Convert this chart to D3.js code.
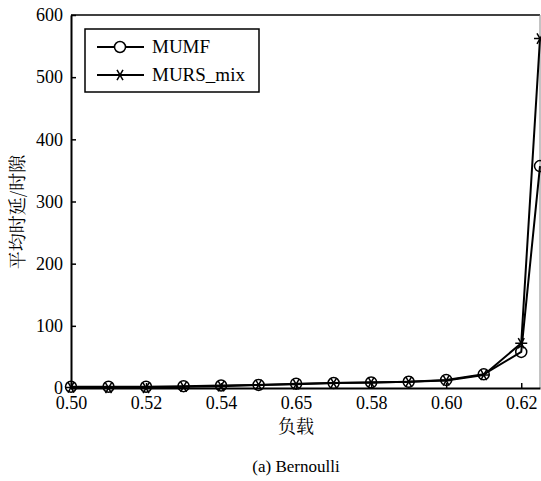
<!DOCTYPE html>
<html>
<head>
<meta charset="utf-8">
<script src="https://cdn.jsdelivr.net/npm/d3@7"></script>
<style>
body { margin: 0; background: #fff; }
text { font-family: "Liberation Serif", "Times New Roman", serif; }
.cjk { font-family: "Noto Serif CJK SC", "Noto Sans CJK SC", serif; }
</style>
</head>
<body>
<div id="chart-area"></div>
<script>
// load values
var loads = [0.50, 0.51, 0.52, 0.53, 0.54, 0.55, 0.56, 0.57, 0.58, 0.59, 0.60, 0.61, 0.62, 0.625];
var mumf = [2, 2, 2, 3, 4, 5, 7, 8, 9, 10, 13, 22, 58, 357];
var mursMix = [1, 0, 0, 2, 3, 5, 6, 8, 9, 10, 12, 21, 72, 562];

var xTicks = [0.50, 0.52, 0.54, 0.56, 0.58, 0.60, 0.62];
var xTickLabels = ["0.50", "0.52", "0.54", "0.65", "0.58", "0.60", "0.62"];
var yTicks = [0, 100, 200, 300, 400, 500, 600];

var seriesNames = ["MUMF", "MURS_mix"];

var width = 541, height = 481;
var plotLeft = 71, plotRight = 540, plotTop = 15, plotBottom = 388;

var svg = d3.select("#chart-area")
    .append("svg")
    .attr("width", width)
    .attr("height", height);

var x = d3.scaleLinear()
    .domain([0.50, 0.625])
    .range([plotLeft, plotRight]);

var y = d3.scaleLinear()
    .domain([0, 600])
    .range([plotBottom, plotTop]);

// frame top / right
svg.append("line")
    .attr("x1", plotLeft).attr("x2", plotRight)
    .attr("y1", plotTop).attr("y2", plotTop)
    .attr("stroke", "#000").attr("stroke-width", 1.5);
svg.append("line")
    .attr("x1", plotRight).attr("x2", plotRight)
    .attr("y1", plotTop).attr("y2", plotBottom)
    .attr("stroke", "#888").attr("stroke-width", 1);

// axes, ticks pointing inward
var xAxisCall = d3.axisBottom(x)
    .tickValues(xTicks)
    .tickSizeInner(-5)
    .tickSizeOuter(0)
    .tickPadding(8)
    .tickFormat(function(d, i){ return xTickLabels[i]; });

var xAxisGroup = svg.append("g")
    .attr("transform", "translate(0," + plotBottom + ")")
    .call(xAxisCall);

var yAxisCall = d3.axisLeft(y)
    .tickValues(yTicks)
    .tickSizeInner(-5)
    .tickSizeOuter(0)
    .tickPadding(8);

var yAxisGroup = svg.append("g")
    .attr("transform", "translate(" + plotLeft + ",0)")
    .call(yAxisCall);

svg.selectAll(".domain").attr("stroke", "#000").attr("stroke-width", 2);
svg.selectAll(".tick line").attr("stroke", "#000").attr("stroke-width", 1.5);
svg.selectAll(".tick text")
    .attr("fill", "#000")
    .attr("font-size", "18px");

// axis labels
svg.append("text")
    .attr("class", "cjk")
    .attr("x", 296)
    .attr("y", 433)
    .attr("font-size", "18px")
    .attr("text-anchor", "middle")
    .text("负载");

svg.append("text")
    .attr("class", "cjk")
    .attr("transform", "translate(24," + 212 + ") rotate(-90)")
    .attr("font-size", "18px")
    .attr("text-anchor", "middle")
    .text("平均时延/时隙");

svg.append("text")
    .attr("x", 296)
    .attr("y", 472)
    .attr("font-size", "17px")
    .attr("text-anchor", "middle")
    .text("(a) Bernoulli");

// series
var line = d3.line()
    .x(function(d){ return x(d.load); })
    .y(function(d){ return y(d.v); });

function pts(vals){
    return loads.map(function(l, i){ return {load: l, v: vals[i]}; });
}

var starPath = "M-6,0L6,0M-3,-5.2L3,5.2M-3,5.2L3,-5.2";

[mumf, mursMix].forEach(function(vals){
    svg.append("path")
        .datum(pts(vals))
        .attr("d", line)
        .attr("fill", "none")
        .attr("stroke", "#000")
        .attr("stroke-width", 2);
});

svg.selectAll(".mk-circle")
    .data(pts(mumf))
    .enter()
    .append("circle")
        .attr("class", "mk-circle")
        .attr("cx", function(d){ return x(d.load); })
        .attr("cy", function(d){ return y(d.v); })
        .attr("r", 5.5)
        .attr("fill", "none")
        .attr("stroke", "#000")
        .attr("stroke-width", 1.5);

svg.selectAll(".mk-star")
    .data(pts(mursMix))
    .enter()
    .append("path")
        .attr("class", "mk-star")
        .attr("transform", function(d){ return "translate(" + x(d.load) + "," + y(d.v) + ")"; })
        .attr("d", starPath)
        .attr("stroke", "#000")
        .attr("stroke-width", 1.5);

// legend
var legend = svg.append("g");
legend.append("rect")
    .attr("x", 85).attr("y", 29)
    .attr("width", 174).attr("height", 63)
    .attr("fill", "#fff")
    .attr("stroke", "#000")
    .attr("stroke-width", 1.5);

var legRows = legend.selectAll(".leg")
    .data(seriesNames)
    .enter()
    .append("g")
        .attr("class", "leg")
        .attr("transform", function(d, i){ return "translate(0," + (47 + i * 28) + ")"; });

legRows.append("line")
    .attr("x1", 97).attr("x2", 144)
    .attr("y1", 0).attr("y2", 0)
    .attr("stroke", "#000").attr("stroke-width", 2);

legRows.filter(function(d, i){ return i == 0; })
    .append("circle")
        .attr("cx", 120).attr("cy", 0).attr("r", 5.5)
        .attr("fill", "#fff").attr("stroke", "#000").attr("stroke-width", 1.5);

legRows.filter(function(d, i){ return i == 1; })
    .append("path")
        .attr("transform", "translate(120,0)")
        .attr("d", starPath)
        .attr("stroke", "#000").attr("stroke-width", 1.5);

legRows.append("text")
    .attr("x", 152)
    .attr("y", 6)
    .attr("font-size", "19px")
    .text(function(d){ return d; });
</script>
</body>
</html>
